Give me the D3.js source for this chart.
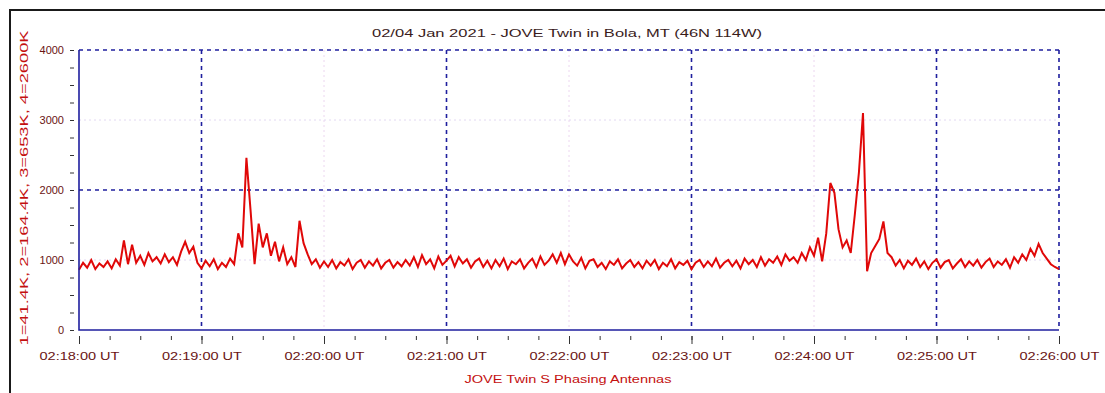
<!DOCTYPE html>
<html>
<head>
<meta charset="utf-8">
<script src="https://cdn.jsdelivr.net/npm/d3@7"></script>
<style>
  body { margin: 0; background: #fff; }
  text { font-family: "Liberation Sans", Arial, sans-serif; }
</style>
</head>
<body>
<div id="chart"></div>
<script>
// chart texts
const titleText = "02/04 Jan 2021 - JOVE Twin in Bola, MT (46N 114W)";
const xTitleText = "JOVE Twin S Phasing Antennas";
const yTitleText = "1=41.4K, 2=164.4K, 3=653K, 4=2600K";

// x axis (seconds after 02:18:00 UT)
const xTickSeconds = [0, 60, 120, 180, 240, 300, 360, 420, 480];
const xTickLabels = ["02:18:00 UT", "02:19:00 UT", "02:20:00 UT", "02:21:00 UT", "02:22:00 UT",
                     "02:23:00 UT", "02:24:00 UT", "02:25:00 UT", "02:26:00 UT"];
const majorGridSeconds = [60, 180, 300, 420];
const minorGridSeconds = [120, 240, 360];

// y axis
const yTickValues = [0, 1000, 2000, 3000, 4000];
const yTickLabels = ["0", "1000", "2000", "3000", "4000"];
const majorGridValues = [2000, 4000];
const minorGridValues = [1000, 3000];

// one reading every 2 seconds from 02:18:00 UT
const sampleStep = 2;
const intensity = [
  860, 960, 890, 1000, 870, 950, 900, 980, 880, 1010, 920, 1280, 940, 1220, 960, 1060, 930, 1100, 980, 1040,
  950, 1080, 970, 1040, 930, 1120, 1260, 1100, 1190, 960, 880, 990, 910, 1010, 870, 960, 900, 1020, 940, 1380,
  1180, 2460, 1720, 940, 1520, 1180, 1380, 1060, 1260, 980, 1180, 940, 1040, 900, 1560, 1240, 1080, 940, 1010, 890,
  980, 900, 1000, 880, 970, 920, 1010, 870, 960, 1000, 890, 980, 920, 1010, 880, 960, 1000, 890, 970, 910,
  1000, 920, 1040, 900, 1070, 940, 1010, 880, 1050, 930, 990, 1060, 910, 1040, 950, 1010, 890, 980, 1020, 900,
  990, 880, 1000, 910, 1020, 870, 980, 940, 1010, 880, 960, 1020, 900, 1050, 930, 990, 1080, 960, 1100, 940,
  1080, 980, 920, 1030, 880, 990, 1010, 900, 960, 870, 980, 930, 1010, 880, 950, 1000, 900, 970, 880, 990,
  920, 1000, 870, 960, 910, 1010, 880, 970, 930, 990, 870, 960, 1000, 900, 980, 910, 1020, 890, 960, 1000,
  910, 990, 880, 1020, 940, 1000, 900, 1040, 920, 1010, 960, 1050, 930, 1080, 990, 1040, 960, 1100, 1000, 1180,
  1060, 1320, 980, 1380, 2100, 1960, 1440, 1180, 1280, 1100, 1650, 2250, 3100, 840, 1100, 1200, 1300, 1550, 1100, 1040,
  920, 1000, 880, 990, 930, 1020, 900, 980, 870, 960, 1010, 890, 970, 1000, 880, 950, 1010, 900, 980, 920,
  1000, 890, 970, 1020, 900, 980, 930, 1010, 890, 1040, 960, 1080, 1000, 1160, 1060, 1230, 1100, 1020, 940, 900, 870
];

const W = 1105, H = 393;
const margin = {top: 50, right: 46, bottom: 63, left: 79};
const width = W - margin.left - margin.right;
const height = H - margin.top - margin.bottom;

const axisBlue = "#1f1f9e";
const darkText = "#6a1414";
const redText = "#c41010";

const svg = d3.select("#chart").append("svg")
  .attr("width", W)
  .attr("height", H);

// outer frame (top and left edges visible)
svg.append("path")
  .attr("d", `M10,${H} L10,10 L${W},10`)
  .attr("fill", "none")
  .attr("stroke", "#1a1a1a")
  .attr("stroke-width", 2);

const chart = svg.append("g")
  .attr("transform", `translate(${margin.left},${margin.top})`);

const x = d3.scaleLinear().domain([0, 480]).range([0, width]);
const y = d3.scaleLinear().domain([0, 4000]).range([height, 0]);

// faint grid
chart.append("g").selectAll("line")
  .data(minorGridSeconds)
  .join("line")
  .attr("x1", d => x(d)).attr("x2", d => x(d))
  .attr("y1", 0).attr("y2", height)
  .attr("stroke", "#ecd6f0")
  .attr("stroke-dasharray", "2,3");

chart.append("g").selectAll("line")
  .data(minorGridValues)
  .join("line")
  .attr("x1", 0).attr("x2", width)
  .attr("y1", d => y(d)).attr("y2", d => y(d))
  .attr("stroke", "#e2d8f2")
  .attr("stroke-dasharray", "2,3");

// major dashed grid
chart.append("g").selectAll("line")
  .data(majorGridSeconds)
  .join("line")
  .attr("x1", d => x(d)).attr("x2", d => x(d))
  .attr("y1", 0).attr("y2", height)
  .attr("stroke", axisBlue)
  .attr("stroke-width", 1.6)
  .attr("stroke-dasharray", "4,4");

chart.append("g").selectAll("line")
  .data(majorGridValues)
  .join("line")
  .attr("x1", 0).attr("x2", width)
  .attr("y1", d => y(d)).attr("y2", d => y(d))
  .attr("stroke", axisBlue)
  .attr("stroke-width", 1.6)
  .attr("stroke-dasharray", "4,4");

// right edge dashed
chart.append("line")
  .attr("x1", width).attr("x2", width)
  .attr("y1", 0).attr("y2", height)
  .attr("stroke", axisBlue)
  .attr("stroke-width", 1.6)
  .attr("stroke-dasharray", "4,4");

// the signal
const line = d3.line()
  .x((d, i) => x(i * sampleStep))
  .y(d => y(d));

chart.append("path")
  .datum(intensity)
  .attr("d", line)
  .attr("fill", "none")
  .attr("stroke", "#e00808")
  .attr("stroke-width", 2)
  .attr("stroke-linejoin", "miter");

// solid left and bottom axis lines
chart.append("path")
  .attr("d", `M0,0 L0,${height} L${width},${height}`)
  .attr("fill", "none")
  .attr("stroke", axisBlue)
  .attr("stroke-width", 1.6);

// x axis ticks and labels
const xMinor = d3.range(0, 481, 15);
chart.append("g")
  .attr("transform", `translate(0,${height + 6})`)
  .call(d3.axisBottom(x).tickValues(xMinor).tickSize(4).tickFormat(""))
  .call(g => g.select(".domain").remove())
  .call(g => g.selectAll("line").attr("stroke", "#333"));

chart.append("g")
  .attr("transform", `translate(0,${height + 6})`)
  .call(d3.axisBottom(x).tickValues(xTickSeconds).tickSize(8).tickPadding(8)
    .tickFormat((d, i) => xTickLabels[i]))
  .call(g => g.select(".domain").remove())
  .call(g => g.selectAll("line").attr("stroke", "#333"))
  .call(g => g.selectAll("text")
    .attr("fill", darkText)
    .style("font-size", "11px")
    .attr("textLength", 80)
    .attr("lengthAdjust", "spacingAndGlyphs"));

// y axis ticks and labels
const yMinor = d3.range(0, 4001, 250);
chart.append("g")
  .attr("transform", "translate(-5,0)")
  .call(d3.axisLeft(y).tickValues(yMinor).tickSize(4).tickFormat(""))
  .call(g => g.select(".domain").remove())
  .call(g => g.selectAll("line").attr("stroke", "#333"));

chart.append("g")
  .attr("transform", "translate(-5,0)")
  .call(d3.axisLeft(y).tickValues(yTickValues).tickSize(4).tickPadding(6)
    .tickFormat((d, i) => yTickLabels[i]))
  .call(g => g.select(".domain").remove())
  .call(g => g.selectAll("line").attr("stroke", "#333"))
  .call(g => g.selectAll("text")
    .attr("fill", darkText)
    .style("font-size", "11px"));

// titles
svg.append("text")
  .attr("x", 567).attr("y", 37)
  .attr("text-anchor", "middle")
  .attr("fill", "#3a1c1c")
  .style("font-size", "11px")
  .attr("textLength", 390)
  .attr("lengthAdjust", "spacingAndGlyphs")
  .text(titleText);

svg.append("text")
  .attr("x", 568).attr("y", 383)
  .attr("text-anchor", "middle")
  .attr("fill", redText)
  .style("font-size", "11px")
  .attr("textLength", 207)
  .attr("lengthAdjust", "spacingAndGlyphs")
  .text(xTitleText);

svg.append("text")
  .attr("transform", "translate(28,188) rotate(-90)")
  .attr("text-anchor", "middle")
  .attr("fill", redText)
  .style("font-size", "11px")
  .attr("textLength", 315)
  .attr("lengthAdjust", "spacingAndGlyphs")
  .text(yTitleText);
</script>
</body>
</html>
